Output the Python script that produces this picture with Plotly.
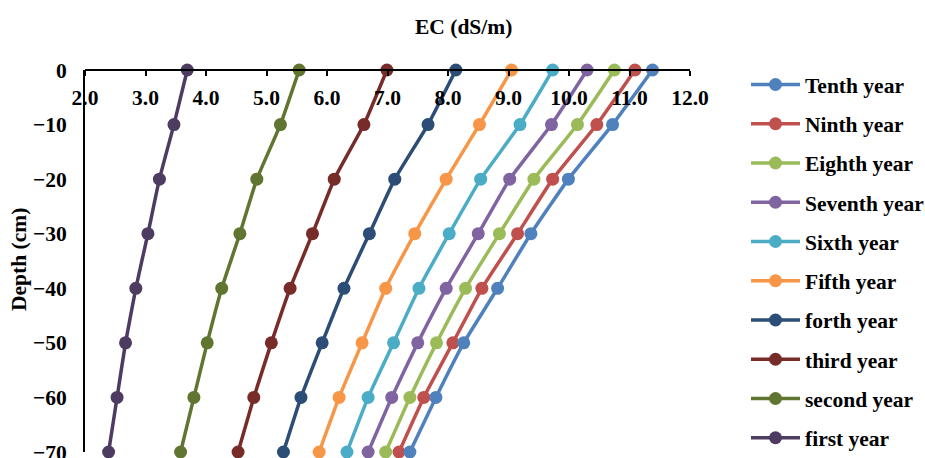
import plotly.graph_objects as go

depth = [0, -10, -20, -30, -40, -50, -60, -70]

series_names = ["first year", "second year", "third year", "forth year", "Fifth year",
                "Sixth year", "Seventh year", "Eighth year", "Ninth year", "Tenth year"]

first_year = [3.69, 3.47, 3.23, 3.04, 2.84, 2.67, 2.53, 2.39]
second_year = [5.54, 5.23, 4.84, 4.56, 4.26, 4.02, 3.80, 3.58]
third_year = [6.99, 6.61, 6.12, 5.76, 5.39, 5.08, 4.79, 4.53]
forth_year = [8.13, 7.67, 7.12, 6.70, 6.28, 5.92, 5.57, 5.28]
fifth_year = [9.05, 8.52, 7.97, 7.45, 6.97, 6.58, 6.20, 5.87]
sixth_year = [9.73, 9.19, 8.54, 8.02, 7.52, 7.10, 6.68, 6.33]
seventh_year = [10.30, 9.71, 9.02, 8.50, 7.97, 7.50, 7.07, 6.68]
eighth_year = [10.75, 10.14, 9.42, 8.85, 8.29, 7.81, 7.37, 6.97]
ninth_year = [11.09, 10.46, 9.73, 9.15, 8.56, 8.08, 7.60, 7.19]
tenth_year = [11.38, 10.72, 9.99, 9.37, 8.82, 8.26, 7.80, 7.37]

series_values = [first_year, second_year, third_year, forth_year, fifth_year,
                 sixth_year, seventh_year, eighth_year, ninth_year, tenth_year]

colors = ["#4D3B62", "#5F7530", "#772C2A", "#2C4D75", "#F79646",
          "#4BACC6", "#8064A2", "#9BBB59", "#C0504D", "#4F81BD"]

x_ticks = [2.0, 3.0, 4.0, 5.0, 6.0, 7.0, 8.0, 9.0, 10.0, 11.0, 12.0]
x_tick_labels = ["2.0", "3.0", "4.0", "5.0", "6.0", "7.0", "8.0", "9.0", "10.0", "11.0", "12.0"]
y_ticks = [0, -10, -20, -30, -40, -50, -60, -70]

FONT = "Liberation Serif"
FS = 21.5

fig = go.Figure()
n = len(series_names)
for i, (name, vals, col) in enumerate(zip(series_names, series_values, colors)):
    fig.add_trace(go.Scatter(
        x=vals, y=depth, name=name, mode="lines+markers",
        line=dict(color=col, width=3.5, shape="spline", smoothing=0.4),
        marker=dict(color=col, size=13),
        legendrank=n - i, legendgroup=name, cliponaxis=False,
    ))

W, H = 925, 458
L, R, T, B = 85, 235, 70, 6
pw, ph = W - L - R, H - T - B

def px_x(x):
    return (x - L) / pw

def px_y(y):
    return (H - B - y) / ph

fig.update_layout(
    width=W, height=H,
    margin=dict(l=L, r=R, t=T, b=B, autoexpand=False),
    paper_bgcolor="white", plot_bgcolor="white",
    font=dict(family=FONT, size=FS, color="black"),
    showlegend=True,
    legend=dict(
        x=px_x(746), y=px_y(64), xanchor="left", yanchor="top",
        font=dict(family=FONT, size=FS, color="black"),
        tracegroupgap=8.3, itemwidth=49, maxheight=2000,
        bgcolor="rgba(0,0,0,0)",
    ),
    xaxis=dict(
        range=[2.0, 12.0], tickmode="array", tickvals=x_ticks, ticktext=x_tick_labels,
        side="bottom", anchor="free", position=1,
        showline=True, linecolor="black", linewidth=2,
        ticks="outside", ticklen=5, tickwidth=1.5, tickcolor="black",
        showgrid=False, zeroline=False,
        tickfont=dict(family=FONT, size=FS, color="black"),
        ticklabelstandoff=3, ticklabeloverflow="allow",
    ),
    yaxis=dict(
        range=[-70, 0], tickmode="array", tickvals=y_ticks,
        showline=True, linecolor="black", linewidth=2,
        ticks="", showgrid=False, zeroline=False,
        tickfont=dict(family=FONT, size=FS, color="black"),
        ticklabelstandoff=12, ticklabeloverflow="allow",
    ),
    annotations=[
        dict(text="<b>EC (dS/m)</b>", x=px_x(463), y=px_y(27), xref="paper", yref="paper",
             xanchor="center", yanchor="middle", showarrow=False,
             font=dict(family=FONT, size=FS, color="black")),
        dict(text="<b>Depth (cm)</b>", x=px_x(19), y=px_y(260), xref="paper", yref="paper",
             xanchor="center", yanchor="middle", showarrow=False, textangle=-90,
             font=dict(family=FONT, size=FS, color="black")),
    ],
)
fig.update_xaxes(tickfont_weight="bold")
fig.update_yaxes(tickfont_weight="bold")
fig.update_layout(legend_font_weight="bold")

fig.write_html("out.html", config={"displayModeBar": False},
               post_script="document.body.style.margin='0';document.body.style.overflow='hidden';")
